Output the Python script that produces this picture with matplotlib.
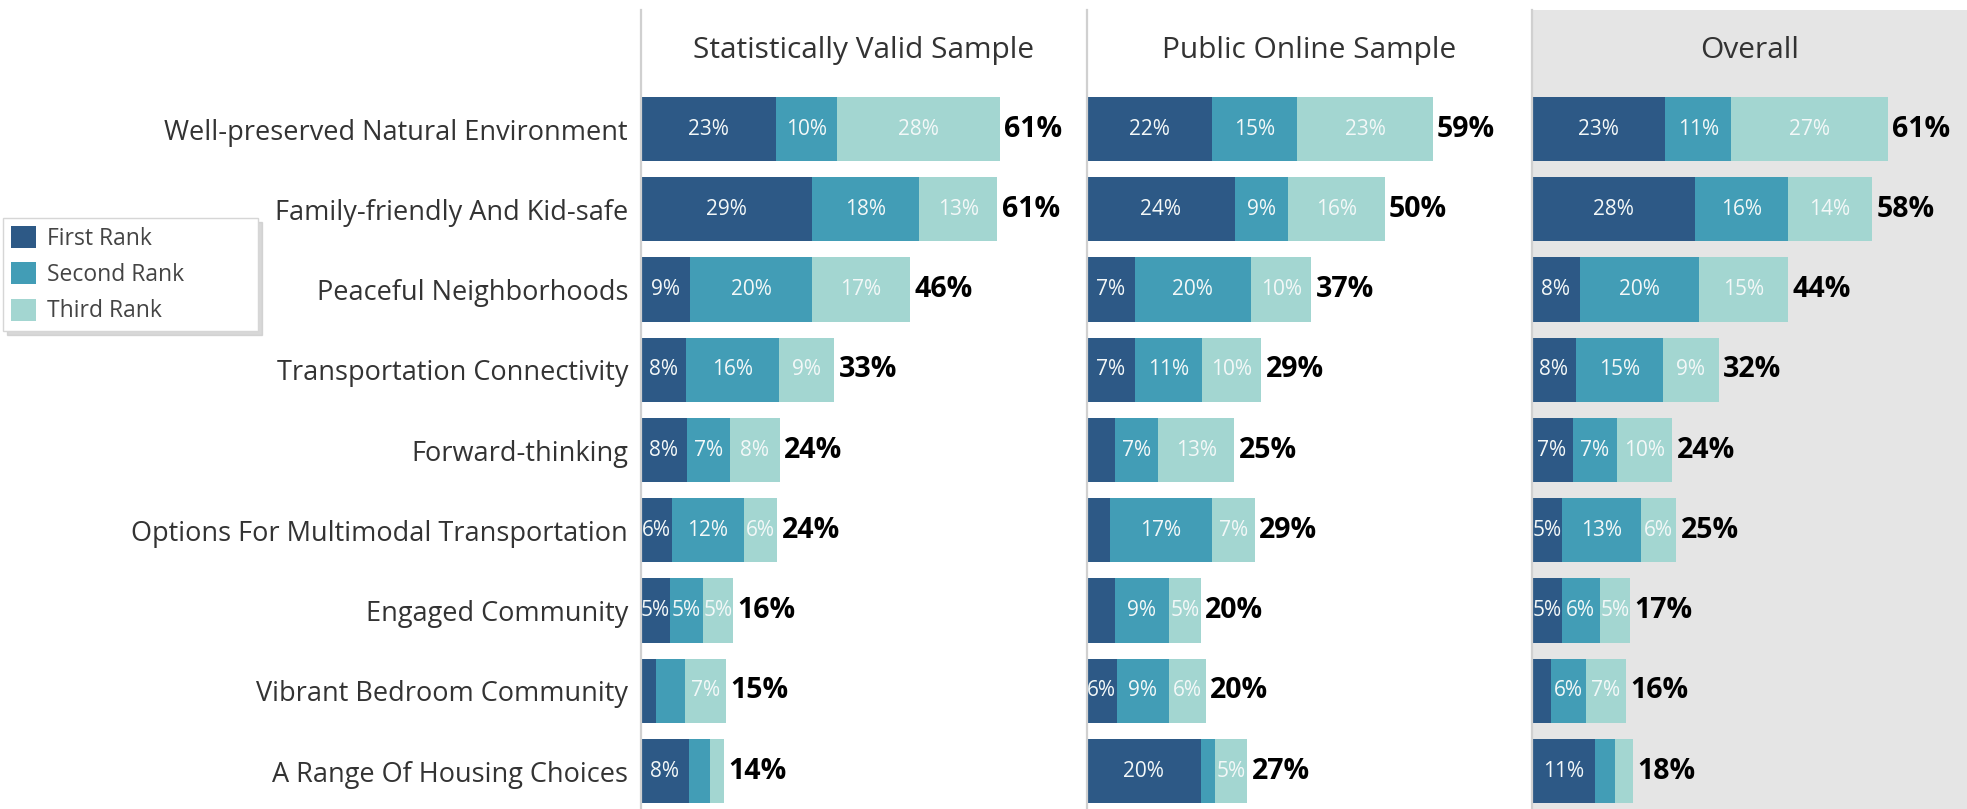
import matplotlib
matplotlib.use("Agg")
import matplotlib.pyplot as plt
from matplotlib.patches import Patch
import matplotlib.transforms as mtransforms

# ---------------- data ----------------
categories = [
    "Well-preserved Natural Environment",
    "Family-friendly And Kid-safe",
    "Peaceful Neighborhoods",
    "Transportation Connectivity",
    "Forward-thinking",
    "Options For Multimodal Transportation",
    "Engaged Community",
    "Vibrant Bedroom Community",
    "A Range Of Housing Choices",
]
panel_titles = ["Statistically Valid Sample", "Public Online Sample", "Overall"]
rank_names = ["First Rank", "Second Rank", "Third Rank"]

# bar lengths (percent)
svs_first = [23.1, 29.2, 8.5, 7.8, 7.9, 5.4, 5.1, 2.7, 8.2]
svs_second = [10.3, 18.2, 20.7, 15.8, 7.3, 12.2, 5.5, 4.9, 3.6]
svs_third = [27.9, 13.4, 16.7, 9.4, 8.5, 5.7, 5.2, 7.0, 2.4]
svs_first_lbl = [23, 29, 9, 8, 8, 6, 5, None, 8]
svs_second_lbl = [10, 18, 20, 16, 7, 12, 5, None, None]
svs_third_lbl = [28, 13, 17, 9, 8, 6, 5, 7, None]
svs_total = [61, 61, 46, 33, 24, 24, 16, 15, 14]

pos_first = [21.3, 25.3, 8.2, 8.2, 4.9, 4.0, 4.9, 5.2, 19.5]
pos_second = [14.6, 9.1, 19.8, 11.5, 7.3, 17.4, 9.1, 8.8, 2.4]
pos_third = [23.1, 16.4, 10.3, 10.1, 13.0, 7.3, 5.5, 6.4, 5.5]
pos_first_lbl = [22, 24, 7, 7, None, None, None, 6, 20]
pos_second_lbl = [15, 9, 20, 11, 7, 17, 9, 9, None]
pos_third_lbl = [23, 16, 10, 10, 13, 7, 5, 6, 5]
pos_total = [59, 50, 37, 29, 25, 29, 20, 20, 27]

all_first = [22.8, 27.9, 8.2, 7.5, 7.0, 5.2, 5.2, 3.3, 10.9]
all_second = [11.2, 15.8, 20.3, 14.9, 7.6, 13.4, 6.4, 5.9, 3.4]
all_third = [26.7, 14.3, 15.2, 9.5, 9.4, 6.1, 5.2, 6.9, 3.0]
all_first_lbl = [23, 28, 8, 8, 7, 5, 5, None, 11]
all_second_lbl = [11, 16, 20, 15, 7, 13, 6, 6, None]
all_third_lbl = [27, 14, 15, 9, 10, 6, 5, 7, None]
all_total = [61, 58, 44, 32, 24, 25, 17, 16, 18]

panels = [
    ([svs_first, svs_second, svs_third], [svs_first_lbl, svs_second_lbl, svs_third_lbl], svs_total),
    ([pos_first, pos_second, pos_third], [pos_first_lbl, pos_second_lbl, pos_third_lbl], pos_total),
    ([all_first, all_second, all_third], [all_first_lbl, all_second_lbl, all_third_lbl], all_total),
]

# ---------------- style ----------------
colors = ["#2d5986", "#429db6", "#a3d6d1"]
FONT = "Open Sans"
plt.rcParams["font.family"] = [FONT, "DejaVu Sans"]

W, H = 1967, 809
fig = plt.figure(figsize=(W / 100, H / 100), dpi=100)
fig.patch.set_facecolor("white")

PX_PER_PCT = 5.87
panel_px = [(640.5, 1086), (1086.5, 1531), (1531.5, 1967)]
top_px, bot_px = 10, 809
row0_px, pitch_px = 129, 80.25
y_top = -(row0_px - top_px) / pitch_px
y_bot = (len(categories) - 1) + (bot_px - (row0_px + (len(categories) - 1) * pitch_px)) / pitch_px


def rect(x0, x1, y0, y1):
    return [x0 / W, 1 - y1 / H, (x1 - x0) / W, (y1 - y0) / H]


ypos = list(range(len(categories)))
for pi, ((segs, lbls, totals), (x0, x1)) in enumerate(zip(panels, panel_px)):
    ax = fig.add_axes(rect(x0, x1, top_px, bot_px))
    ax.set_xlim(0, (x1 - x0) / PX_PER_PCT)
    ax.set_ylim(y_bot, y_top)
    if pi == 2:
        ax.set_facecolor("#e5e5e5")
    for s in ["top", "right", "bottom"]:
        ax.spines[s].set_visible(False)
    ax.spines["left"].set_color("#d0d0d0")
    ax.spines["left"].set_linewidth(1.6)
    ax.set_xticks([])

    left = [0.0] * len(categories)
    for k in range(3):
        ax.barh(ypos, segs[k], left=left, height=0.8, color=colors[k], linewidth=0)
        for i, (v, l) in enumerate(zip(segs[k], lbls[k])):
            if l is not None:
                ax.text(left[i] + v / 2, ypos[i], f"{l}%", ha="center", va="center",
                        color="#f3f8f8", fontsize=15)
        left = [a + b for a, b in zip(left, segs[k])]
    for i, t in enumerate(totals):
        ax.annotate(f"{t}%", (left[i], ypos[i]), xytext=(3, 0), textcoords="offset points",
                    ha="left", va="center", fontsize=20.5, fontweight="bold", color="black")

    trans = mtransforms.blended_transform_factory(ax.transAxes, ax.transData)
    ax.text(0.5, y_top + 40 / pitch_px, panel_titles[pi], transform=trans, ha="center",
            va="center", fontsize=21.5, color="#333333")

    if pi == 0:
        ax.set_yticks(ypos)
        ax.set_yticklabels(categories, fontsize=19.5, color="#333333")
        ax.tick_params(axis="y", length=0, pad=9)
    else:
        ax.set_yticks([])

handles = [Patch(facecolor=c, edgecolor="none") for c in colors]
leg = fig.legend(handles, rank_names, loc="upper left",
                 bbox_to_anchor=(3 / W, 1 - 330 / H, 255 / W, 112 / H), mode="expand",
                 fontsize=16.5, handlelength=1.1, handleheight=1.1, handletextpad=0.45,
                 labelspacing=0.5, borderpad=0.35, borderaxespad=0, fancybox=False,
                 frameon=True, edgecolor="#d6d6d6", framealpha=1,
                 shadow={"ox": 3, "oy": -3, "color": "#c8c8c8", "alpha": 0.7})
for t in leg.get_texts():
    t.set_color("#444444")

fig.savefig("out.png", dpi=100)
